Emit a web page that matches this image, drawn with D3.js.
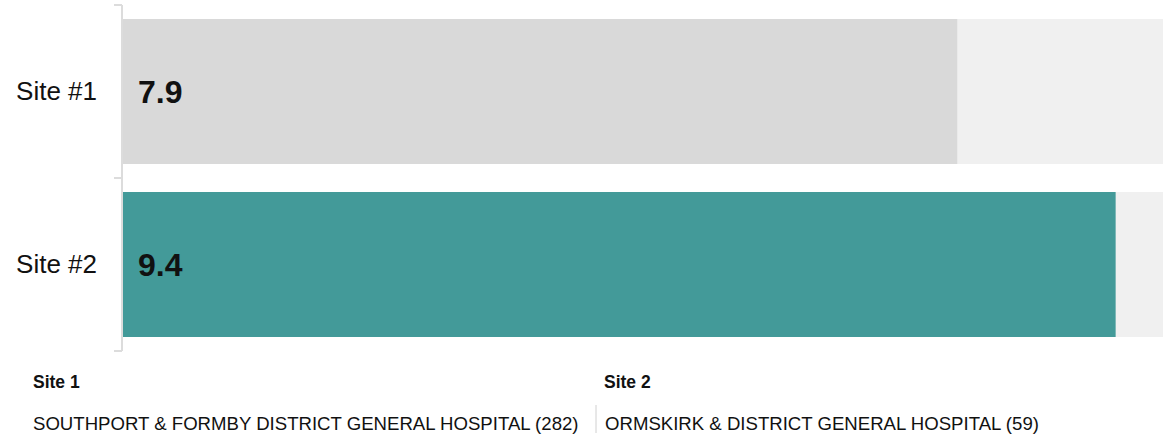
<!DOCTYPE html>
<html>
<head>
<meta charset="utf-8">
<script src="https://cdn.jsdelivr.net/npm/d3@7"></script>
<style>
  html, body { margin: 0; padding: 0; background: #fff; }
  svg { display: block; font-family: "Liberation Sans", Arial, sans-serif; }
</style>
</head>
<body>
<svg id="chart" width="1163" height="434"></svg>
<script>
// Scores by site
const sites = ["Site #1", "Site #2"];
const scores = [7.9, 9.4];
const barColors = ["#d9d9d9", "#439a99"];
const scoreMax = [10];

// Footer key
const keyTitles = ["Site 1", "Site 2"];
const keyNames = ["SOUTHPORT & FORMBY DISTRICT GENERAL HOSPITAL (282)", "ORMSKIRK & DISTRICT GENERAL HOSPITAL (59)"];

const svg = d3.select("#chart");
const axisX = 122;

const x = d3.scaleLinear().domain([0, scoreMax[0]]).range([axisX + 1, axisX + 1 + 1056]);
const y = d3.scaleBand().domain(sites).range([5, 351]).paddingInner(0.162).paddingOuter(0.081);

// background tracks
svg.append("g").selectAll("rect").data(sites).join("rect")
  .attr("x", x(0)).attr("y", d => y(d))
  .attr("width", x(scoreMax[0]) - x(0)).attr("height", y.bandwidth())
  .attr("fill", "#f0f0f0");

// value bars
svg.append("g").selectAll("rect").data(sites).join("rect")
  .attr("x", x(0)).attr("y", d => y(d))
  .attr("width", (d, i) => x(scores[i]) - x(0)).attr("height", y.bandwidth())
  .attr("fill", (d, i) => barColors[i]);

// value labels
svg.append("g").selectAll("text").data(sites).join("text")
  .attr("x", x(0) + 15).attr("y", d => y(d) + y.bandwidth() / 2)
  .attr("dy", "0.36em")
  .attr("font-size", 32).attr("font-weight", "bold").attr("fill", "#111")
  .text((d, i) => scores[i].toFixed(1));

// category axis
const yAxis = d3.axisLeft(y).tickSize(0).tickPadding(25);
const gAxis = svg.append("g").attr("transform", `translate(${axisX},0)`).call(yAxis);
gAxis.select(".domain").remove();
gAxis.selectAll("text").attr("font-size", 26).attr("fill", "#111")
  .attr("font-family", "Liberation Sans, Arial, sans-serif");

// bracket-style axis line with ticks at band edges
const edges = [y.range()[0], y(sites[1]) - y.step() * y.paddingInner() / 2, y.range()[1]];
svg.append("line").attr("x1", axisX).attr("x2", axisX)
  .attr("y1", edges[0]).attr("y2", edges[2])
  .attr("stroke", "#dcdcdc").attr("stroke-width", 2);
svg.append("g").selectAll("line").data(edges).join("line")
  .attr("x1", axisX - 8).attr("x2", axisX)
  .attr("y1", d => d).attr("y2", d => d)
  .attr("stroke", "#dcdcdc").attr("stroke-width", 2);

// footer key
const keyX = [33, 604];
const key = svg.append("g");
key.selectAll("text.title").data(keyTitles).join("text").attr("class", "title")
  .attr("x", (d, i) => keyX[i]).attr("y", 388)
  .attr("font-size", 17.5).attr("font-weight", "bold").attr("fill", "#111")
  .text(d => d);
key.selectAll("text.name").data(keyNames).join("text").attr("class", "name")
  .attr("x", (d, i) => keyX[i] + (i ? 1 : 0)).attr("y", 430)
  .attr("font-size", 18.6).attr("fill", "#111")
  .text(d => d);
key.append("line").attr("x1", 596).attr("x2", 596).attr("y1", 405).attr("y2", 433)
  .attr("stroke", "#d0d0d0").attr("stroke-width", 1);
</script>
</body>
</html>
